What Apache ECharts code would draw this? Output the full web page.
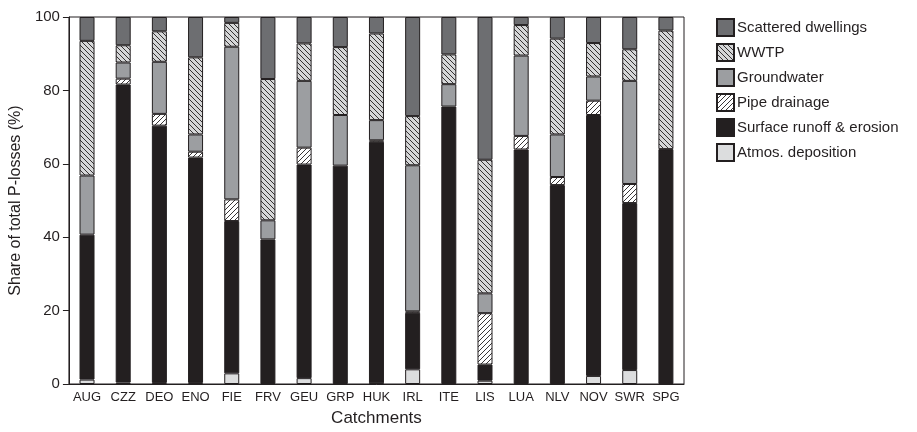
<!DOCTYPE html>
<html><head><meta charset="utf-8">
<script src="https://cdn.jsdelivr.net/npm/echarts/dist/echarts.min.js"></script>
<style>html,body{margin:0;padding:0;background:#fff}#c{width:917px;height:432px}</style>
</head><body><div id="c"></div>
<script>
const categories = ['AUG','CZZ','DEO','ENO','FIE','FRV','GEU','GRP','HUK','IRL','ITE','LIS','LUA','NLV','NOV','SWR','SPG'];
const atmos       = [1.2, 0.4, 0.3, 0.3, 2.9, 0,    1.6, 0,    0.2, 4.0, 0,    0.9, 0,    0,    2.2, 3.8, 0];
const surface     = [39.5,81.2,70.1,61.4,41.5,39.4, 58.2,59.5, 65.8,15.4,75.6, 4.4, 63.9, 54.2, 71.1,45.5,64.0];
const pipe        = [0,   1.6, 3.2, 1.6, 5.9, 0,    4.6, 0,    0.4, 0.4, 0,    14.0,3.7,  2.2,  3.9, 5.2, 0];
const groundwater = [16.1,4.4, 14.2,4.7, 41.6,5.2,  18.2,13.8, 5.5, 39.8,6.1,  5.4, 21.9, 11.6, 6.6, 28.1,0];
const wwtp        = [36.7,4.7, 8.3, 21.0,6.5, 38.5, 10.2,18.5, 23.6,13.4,8.1,  36.4,8.3,  26.1, 9.1, 8.6, 32.3];
const scattered   = [6.5, 7.7, 3.9, 11.0,1.6, 16.9, 7.2, 8.2,  4.5, 27.0,10.2, 38.9,2.2,  5.9,  7.1, 8.8, 3.7];
const yTicks = [0,20,40,60,80,100];

function hatch(bg, backslash){
  const s = 5;
  const c = document.createElement('canvas');
  c.width = s; c.height = s;
  const ctx = c.getContext('2d');
  ctx.fillStyle = bg; ctx.fillRect(0,0,s,s);
  ctx.strokeStyle = '#231f20'; ctx.lineWidth = 0.9;
  for (const x0 of [-s,0,s]) {
    ctx.beginPath();
    if (backslash) { ctx.moveTo(x0,0); ctx.lineTo(x0+s,s); }
    else { ctx.moveTo(x0,s); ctx.lineTo(x0+s,0); }
    ctx.stroke();
  }
  return {image: c, repeat: 'repeat'};
}

const ink = '#231f20';
const FONT = 'Liberation Sans, Arial, sans-serif';
function mk(name, data, color){
  return {
    name, type:'bar', stack:'all', barWidth:15,
    data: data.map(v => v === 0 ? null : v),
    itemStyle:{color, borderColor: ink, borderWidth: 1},
    emphasis:{disabled:true}
  };
}
const series = [
  mk('Atmos. deposition', atmos, '#dcddde'),
  mk('Surface runoff & erosion', surface, ink),
  mk('Pipe drainage', pipe, hatch('#ffffff', false)),
  mk('Groundwater', groundwater, '#9c9ea1'),
  mk('WWTP', wwtp, hatch('#d6d7d8', true)),
  mk('Scattered dwellings', scattered, '#6d6e71')
];

const chart = echarts.init(document.getElementById('c'));
chart.setOption({
  animation:false,
  textStyle:{fontFamily: FONT, color: ink},
  grid:{left:67, right:233, top:17, bottom:41, show:true, borderColor:ink, borderWidth:1},
  legend:{
    orient:'vertical', left:711, top:13, itemWidth:17, itemHeight:17, itemGap:6,
    icon:'rect',
    data:['Scattered dwellings','WWTP','Groundwater','Pipe drainage','Surface runoff & erosion','Atmos. deposition'],
    textStyle:{fontSize:15, lineHeight:17, color:ink, fontFamily:FONT, padding:[0,0,0,-2]},
    selectedMode:false
  },
  xAxis:{
    type:'category', data:categories,
    axisLine:{lineStyle:{color:ink}}, axisTick:{show:false},
    axisLabel:{fontSize:13, color:ink, margin:7, interval:0, fontFamily:FONT},
    name:'Catchments', nameLocation:'middle', nameGap:26,
    nameTextStyle:{fontSize:17, color:ink, fontFamily:FONT}
  },
  yAxis:{
    type:'value', min:yTicks[0], max:yTicks[yTicks.length-1], interval:20,
    splitLine:{show:false},
    axisLine:{show:true, lineStyle:{color:ink}},
    axisTick:{show:true, length:6, lineStyle:{color:ink}},
    axisLabel:{fontSize:15, color:ink, margin:9, fontFamily:FONT},
    name:'Share of total P-losses (%)', nameLocation:'middle', nameGap:34,
    nameTextStyle:{fontSize:16, color:ink, fontFamily:FONT}
  },
  series
});
</script></body></html>
